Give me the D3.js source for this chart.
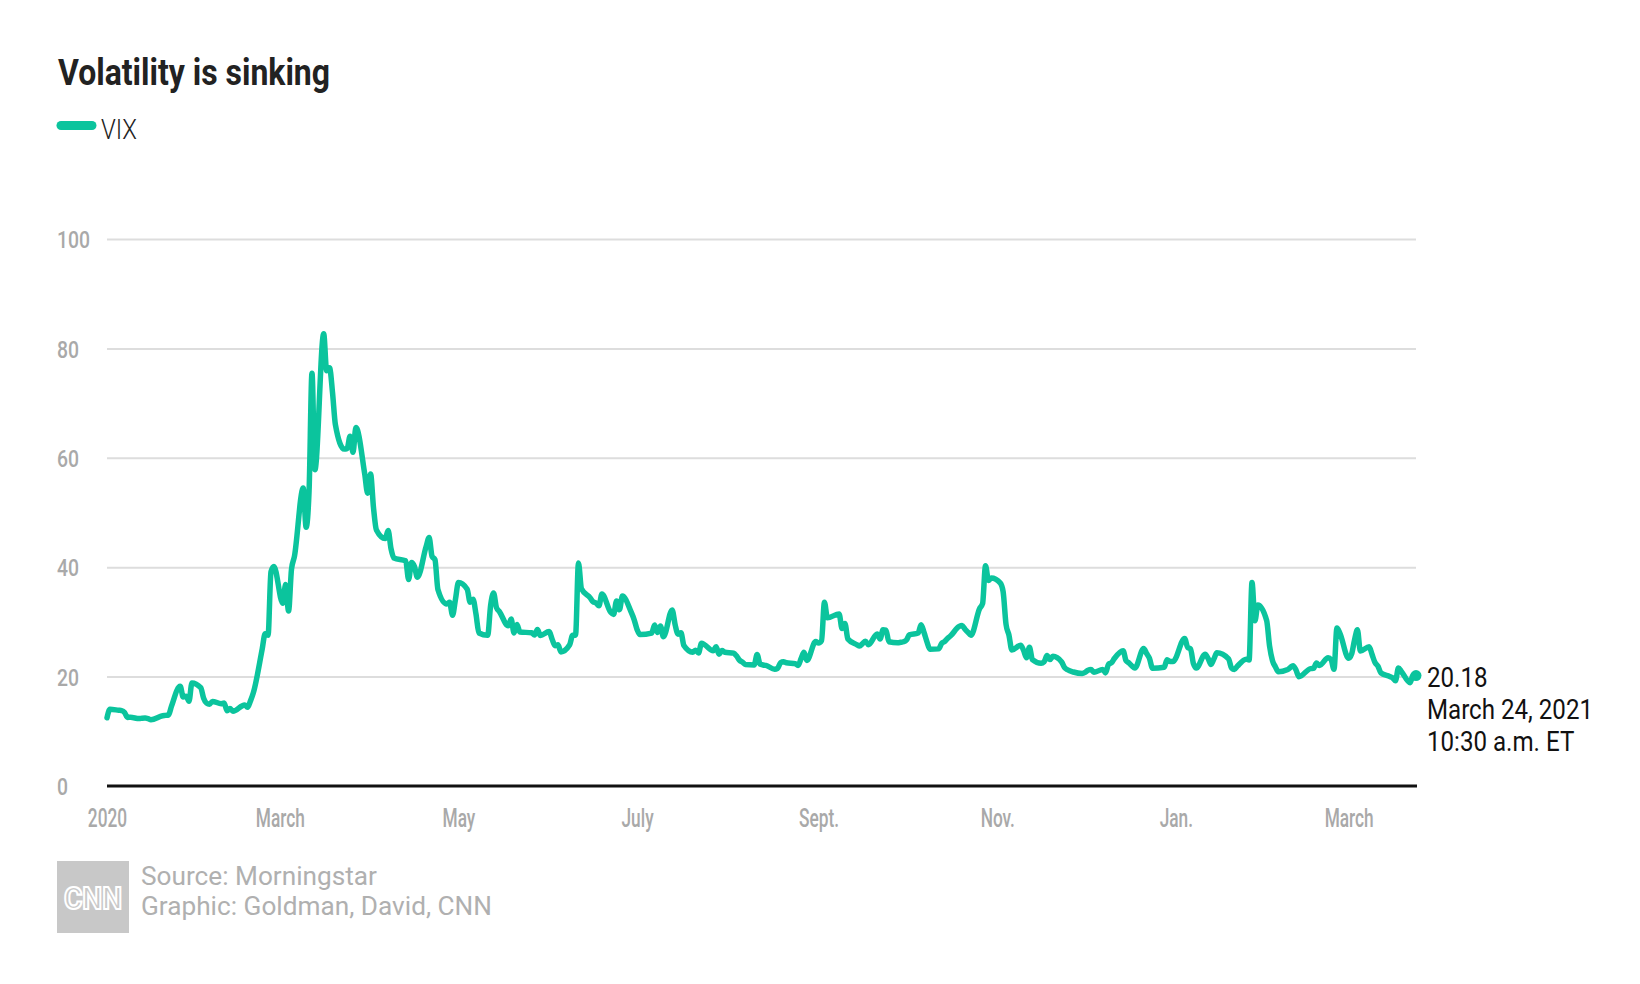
<!DOCTYPE html>
<html>
<head>
<meta charset="utf-8">
<script src="https://cdn.jsdelivr.net/npm/d3@7"></script>
<style>
  body { margin: 0; background: #fff; }
  text { font-family: Roboto, "DejaVu Sans", sans-serif; }
</style>
</head>
<body>
<div id="chart"></div>
<script>
// ---------------- data (VIX daily close) ----------------
var vixDates = [
  // 2020
  "2020-01-02","2020-01-03","2020-01-06","2020-01-07","2020-01-08","2020-01-09","2020-01-10","2020-01-13","2020-01-14","2020-01-15","2020-01-16","2020-01-17","2020-01-21","2020-01-22","2020-01-23","2020-01-24","2020-01-27","2020-01-28","2020-01-29","2020-01-30","2020-01-31",
  "2020-02-03","2020-02-04","2020-02-05","2020-02-06","2020-02-07","2020-02-10","2020-02-11","2020-02-12","2020-02-13","2020-02-14","2020-02-18","2020-02-19","2020-02-20","2020-02-21","2020-02-24","2020-02-25","2020-02-26","2020-02-27","2020-02-28",
  "2020-03-02","2020-03-03","2020-03-04","2020-03-05","2020-03-06","2020-03-09","2020-03-10","2020-03-11","2020-03-12","2020-03-13","2020-03-16","2020-03-17","2020-03-18","2020-03-19","2020-03-20","2020-03-23","2020-03-24","2020-03-25","2020-03-26","2020-03-27","2020-03-30","2020-03-31",
  "2020-04-01","2020-04-02","2020-04-03","2020-04-06","2020-04-07","2020-04-08","2020-04-09","2020-04-13","2020-04-14","2020-04-15","2020-04-16","2020-04-17","2020-04-20","2020-04-21","2020-04-22","2020-04-23","2020-04-24","2020-04-27","2020-04-28","2020-04-29","2020-04-30",
  "2020-05-01","2020-05-04","2020-05-05","2020-05-06","2020-05-07","2020-05-08","2020-05-11","2020-05-12","2020-05-13","2020-05-14","2020-05-15","2020-05-18","2020-05-19","2020-05-20","2020-05-21","2020-05-22","2020-05-26","2020-05-27","2020-05-28","2020-05-29",
  "2020-06-01","2020-06-02","2020-06-03","2020-06-04","2020-06-05","2020-06-08","2020-06-09","2020-06-10","2020-06-11","2020-06-12","2020-06-15","2020-06-16","2020-06-17","2020-06-18","2020-06-19","2020-06-22","2020-06-23","2020-06-24","2020-06-25","2020-06-26","2020-06-29","2020-06-30",
  "2020-07-01","2020-07-02","2020-07-06","2020-07-07","2020-07-08","2020-07-09","2020-07-10","2020-07-13","2020-07-14","2020-07-15","2020-07-16","2020-07-17","2020-07-20","2020-07-21","2020-07-22","2020-07-23","2020-07-24","2020-07-27","2020-07-28","2020-07-29","2020-07-30","2020-07-31",
  "2020-08-03","2020-08-04","2020-08-05","2020-08-06","2020-08-07","2020-08-10","2020-08-11","2020-08-12","2020-08-13","2020-08-14","2020-08-17","2020-08-18","2020-08-19","2020-08-20","2020-08-21","2020-08-24","2020-08-25","2020-08-26","2020-08-27","2020-08-28","2020-08-31",
  "2020-09-01","2020-09-02","2020-09-03","2020-09-04","2020-09-08","2020-09-09","2020-09-10","2020-09-11","2020-09-14","2020-09-15","2020-09-16","2020-09-17","2020-09-18","2020-09-21","2020-09-22","2020-09-23","2020-09-24","2020-09-25","2020-09-28","2020-09-29","2020-09-30",
  "2020-10-01","2020-10-02","2020-10-05","2020-10-06","2020-10-07","2020-10-08","2020-10-09","2020-10-12","2020-10-13","2020-10-14","2020-10-15","2020-10-16","2020-10-19","2020-10-20","2020-10-21","2020-10-22","2020-10-23","2020-10-26","2020-10-27","2020-10-28","2020-10-29","2020-10-30",
  "2020-11-02","2020-11-03","2020-11-04","2020-11-05","2020-11-06","2020-11-09","2020-11-10","2020-11-11","2020-11-12","2020-11-13","2020-11-16","2020-11-17","2020-11-18","2020-11-19","2020-11-20","2020-11-23","2020-11-24","2020-11-25","2020-11-27","2020-11-30",
  "2020-12-01","2020-12-02","2020-12-03","2020-12-04","2020-12-07","2020-12-08","2020-12-09","2020-12-10","2020-12-11","2020-12-14","2020-12-15","2020-12-16","2020-12-17","2020-12-18","2020-12-21","2020-12-22","2020-12-23","2020-12-24","2020-12-28","2020-12-29","2020-12-30","2020-12-31",
  // 2021
  "2021-01-04","2021-01-05","2021-01-06","2021-01-07","2021-01-08","2021-01-11","2021-01-12","2021-01-13","2021-01-14","2021-01-15","2021-01-19","2021-01-20","2021-01-21","2021-01-22","2021-01-25","2021-01-26","2021-01-27","2021-01-28","2021-01-29",
  "2021-02-01","2021-02-02","2021-02-03","2021-02-04","2021-02-05","2021-02-08","2021-02-09","2021-02-10","2021-02-11","2021-02-12","2021-02-16","2021-02-17","2021-02-18","2021-02-19","2021-02-22","2021-02-23","2021-02-24","2021-02-25","2021-02-26",
  "2021-03-01","2021-03-02","2021-03-03","2021-03-04","2021-03-05","2021-03-08","2021-03-09","2021-03-10","2021-03-11","2021-03-12","2021-03-15","2021-03-16","2021-03-17","2021-03-18","2021-03-19","2021-03-22","2021-03-23","2021-03-24"
];

var vixValues = [
  12.47,14.02,13.85,13.79,13.45,12.54,12.56,12.32,12.39,12.42,12.32,12.10,12.85,12.91,12.98,14.56,18.23,16.28,16.39,15.49,18.84,
  17.97,16.05,15.15,14.96,15.47,15.04,15.18,13.74,14.15,13.68,14.83,14.38,15.56,17.08,25.03,27.85,27.56,39.16,40.11,
  33.42,36.82,31.99,39.62,41.94,54.46,47.30,53.90,75.47,57.83,82.69,75.91,76.45,72.00,66.04,61.59,61.67,63.95,61.00,65.54,57.08,53.54,
  57.06,50.91,46.80,45.24,46.70,43.35,41.67,41.17,37.76,40.84,40.11,38.15,43.83,45.41,41.98,41.38,35.93,33.29,33.57,31.23,34.15,
  37.19,35.97,33.61,34.12,31.44,27.98,27.57,33.04,35.28,32.61,31.89,29.30,30.53,27.99,29.53,28.16,28.01,27.62,28.59,27.51,
  28.23,26.84,25.66,25.81,24.52,25.81,27.57,27.57,40.79,36.09,34.40,33.67,33.47,32.94,35.12,31.77,31.37,33.84,32.22,34.73,31.78,30.43,
  28.62,27.68,27.94,29.43,28.08,29.26,27.29,32.19,29.52,27.76,28.00,25.68,24.46,24.84,24.32,26.08,25.84,24.74,25.44,24.10,24.76,24.46,
  24.28,23.76,22.99,22.65,22.21,22.13,24.03,22.28,22.13,22.05,21.35,21.51,22.54,22.72,22.54,22.37,22.03,23.27,24.47,22.96,26.41,
  26.12,26.57,33.60,30.75,31.46,28.81,29.71,26.87,25.85,25.59,26.04,26.46,25.83,27.78,26.86,28.58,28.51,26.38,26.19,26.27,26.37,
  26.70,27.63,27.96,29.48,28.06,26.36,25.00,25.07,26.07,26.40,26.97,27.41,29.18,29.35,28.65,28.11,27.55,32.46,33.35,40.28,37.59,38.02,
  37.13,35.55,29.57,27.58,24.86,25.75,24.80,23.45,25.35,23.10,22.45,22.71,23.84,23.11,23.70,22.66,21.64,21.25,20.84,20.57,
  20.77,21.17,21.28,20.79,21.30,20.68,22.27,22.52,23.31,24.72,22.89,22.50,21.93,21.57,25.16,24.23,23.31,21.53,21.70,23.08,22.77,22.75,
  26.97,25.34,25.07,22.37,21.56,24.08,23.33,22.21,23.25,24.34,23.24,21.58,21.32,21.91,23.19,23.02,37.21,30.21,33.09,
  30.24,25.56,22.91,21.77,20.87,21.24,21.63,21.99,21.25,19.97,21.46,21.50,22.49,22.05,23.45,23.11,21.34,28.89,27.95,
  23.35,24.10,26.67,28.57,24.66,25.47,24.03,22.56,21.91,20.69,20.03,19.79,19.23,21.58,20.95,18.88,20.30,20.18
];

var yTicks = [0, 20, 40, 60, 80, 100];
var xTickDates = ["2020-01-02","2020-03-01","2020-05-01","2020-07-01","2020-09-01","2020-11-01","2021-01-01","2021-03-01"];
var xTickLabels = ["2020","March","May","July","Sept.","Nov.","Jan.","March"];
var lastLabel = ["20.18", "March 24, 2021", "10:30 a.m. ET"];

// ---------------- setup ----------------
var attrs = {
  svgWidth: 1640,
  svgHeight: 984,
  left: 107,
  right: 1416,
  top: 239,
  bottom: 786,
  lineColor: '#0bc49d'
};

var parse = d3.timeParse("%Y-%m-%d");
var data = vixDates.map(function (d, i) { return { date: parse(d), value: vixValues[i] }; });

var svg = d3.select('#chart').append('svg')
  .attr('width', attrs.svgWidth)
  .attr('height', attrs.svgHeight);

var x = d3.scaleTime()
  .domain([parse("2020-01-02"), parse("2021-03-24")])
  .range([attrs.left, attrs.right]);

var y = d3.scaleLinear()
  .domain([0, 100])
  .range([attrs.bottom, attrs.top]);

// squeeze a group of labels so that the reference label gets the target width
function fitGroup(sel, refText, target) {
  var k = 1;
  sel.each(function () {
    if (this.textContent === refText) k = target / this.getComputedTextLength();
  });
  sel.each(function () {
    var w = this.getComputedTextLength();
    this.setAttribute('textLength', w * k);
    this.setAttribute('lengthAdjust', 'spacingAndGlyphs');
  });
}

// gridlines
svg.append('g')
  .attr('transform', 'translate(' + attrs.left + ',0)')
  .call(d3.axisLeft(y).tickValues(yTicks.slice(1)).tickSize(-(attrs.right - attrs.left)).tickFormat(''))
  .call(function (g) { g.select('.domain').remove(); })
  .selectAll('.tick line')
  .attr('stroke', '#dddddd')
  .attr('stroke-width', 2);

// y labels (left aligned)
var yAxis = svg.append('g')
  .attr('transform', 'translate(57,0)')
  .call(d3.axisRight(y).tickValues(yTicks).tickSize(0).tickPadding(0))
  .call(function (g) { g.select('.domain').remove(); });
yAxis.selectAll('text')
  .attr('font-family', 'Roboto, sans-serif')
  .attr('font-size', 24)
  .attr('font-weight', 500)
  .attr('fill', '#a9a9a9')
  .attr('dy', '0.36em');
fitGroup(yAxis.selectAll('text'), '100', 33);

// x labels
var xAxis = svg.append('g')
  .attr('transform', 'translate(0,' + attrs.bottom + ')')
  .call(d3.axisBottom(x)
    .tickValues(xTickDates.map(parse))
    .tickFormat(function (d, i) { return xTickLabels[i]; })
    .tickSize(0)
    .tickPadding(23))
  .call(function (g) { g.select('.domain').remove(); });
xAxis.selectAll('text')
  .attr('font-family', 'Roboto, sans-serif')
  .attr('font-size', 25)
  .attr('font-weight', 500)
  .attr('fill', '#a9a9a9');
fitGroup(xAxis.selectAll('text'), 'Sept.', 40);

// zero line
svg.append('line')
  .attr('x1', attrs.left).attr('x2', attrs.right + 1)
  .attr('y1', y(0)).attr('y2', y(0))
  .attr('stroke', '#111')
  .attr('stroke-width', 3);

// VIX line
var line = d3.line()
  .curve(d3.curveMonotoneX)
  .x(function (d) { return x(d.date); })
  .y(function (d) { return y(d.value); });

svg.append('path')
  .datum(data)
  .attr('d', line)
  .attr('fill', 'none')
  .attr('stroke', attrs.lineColor)
  .attr('stroke-width', 5.5)
  .attr('stroke-linejoin', 'round')
  .attr('stroke-linecap', 'round');

var last = data[data.length - 1];
svg.append('circle')
  .attr('cx', x(last.date))
  .attr('cy', y(last.value))
  .attr('r', 5.5)
  .attr('fill', attrs.lineColor);

// end annotation
var ann = svg.append('g').selectAll('text')
  .data(lastLabel)
  .enter().append('text')
  .attr('x', x(last.date) + 11)
  .attr('y', function (d, i) { return y(last.value) + 11 + i * 32; })
  .attr('font-size', 27)
  .attr('fill', '#111')
  .text(function (d) { return d; });
fitGroup(ann, 'March 24, 2021', 166);

// title + legend
var title = svg.append('text')
  .attr('x', 58).attr('y', 85)
  .attr('font-size', 36)
  .attr('font-weight', 700)
  .attr('fill', '#222')
  .text('Volatility is sinking');
fitGroup(title, 'Volatility is sinking', 272);

svg.append('line')
  .attr('x1', 61).attr('x2', 92)
  .attr('y1', 125.5).attr('y2', 125.5)
  .attr('stroke', attrs.lineColor)
  .attr('stroke-width', 9)
  .attr('stroke-linecap', 'round');

var legendText = svg.append('text')
  .attr('x', 101).attr('y', 139)
  .attr('font-size', 28)
  .attr('font-weight', 300)
  .attr('fill', '#222')
  .text('VIX');
fitGroup(legendText, 'VIX', 36);

// footer
svg.append('rect')
  .attr('x', 57).attr('y', 861)
  .attr('width', 72).attr('height', 72)
  .attr('fill', '#c8c8c8');

var logo = svg.append('text')
  .attr('x', 64).attr('y', 909)
  .attr('font-size', 32)
  .attr('font-weight', 700)
  .attr('fill', '#c8c8c8')
  .attr('stroke', '#fff')
  .attr('stroke-width', 2.2)
  .text('CNN');
fitGroup(logo, 'CNN', 58);

var credits = svg.append('g').selectAll('text')
  .data(['Source: Morningstar', 'Graphic: Goldman, David, CNN'])
  .enter().append('text')
  .attr('x', 141)
  .attr('y', function (d, i) { return 885 + i * 30; })
  .attr('font-family', '"Liberation Sans", Arial, sans-serif')
  .attr('font-size', 25)
  .attr('fill', '#b0b0b0')
  .text(function (d) { return d; });
fitGroup(credits, 'Graphic: Goldman, David, CNN', 351);
</script>
</body>
</html>
